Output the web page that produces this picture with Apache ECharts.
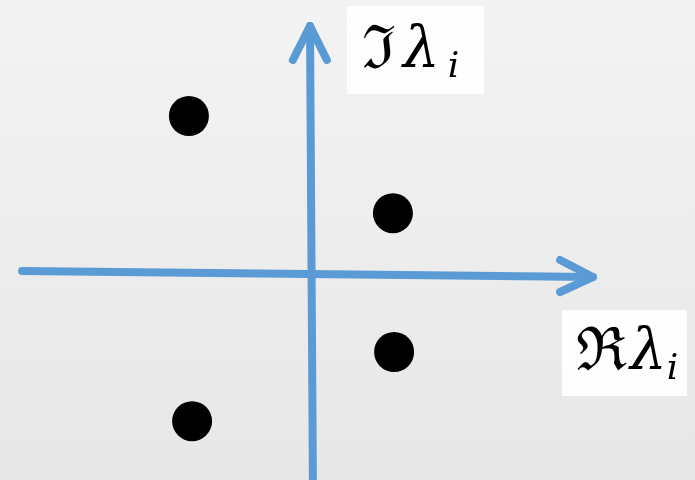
<!DOCTYPE html>
<html>
<head>
<meta charset="utf-8">
<title>Eigenvalues in the complex plane</title>
<script src="https://cdn.jsdelivr.net/npm/echarts@6/dist/echarts.min.js"></script>
<style>
  html, body { margin: 0; padding: 0; }
  #chart { width: 695px; height: 480px; }
</style>
</head>
<body>
<div id="chart"></div>
<script>
// Eigenvalues λ_i plotted as points (Re, Im)
const realParts = [-3.04, 2.06, 2.09, -2.96];
const imagParts = [3.95, 1.52, -1.95, -3.68];

// Hand-drawn axes of the complex plane (slightly tilted), in plot units
const realAxisLine = [[-7.21, 0.075], [7.06, -0.075]];
const realAxisHead = [[6.24, 0.35], [7.06, -0.075], [6.24, -0.45]];
const imagAxisLine = [[0.06, -5.2], [-0.0125, 6.2]];
const imagAxisHead = [[-0.44, 5.35], [-0.0125, 6.2], [0.41, 5.35]];

// Visible plot window
const xRange = [-7.7625, 9.6125];
const yRange = [-5.15, 6.85];

const axisBlue = '#5b9bd5';

const chart = echarts.init(document.getElementById('chart'), null, { renderer: 'canvas' });

function axisStroke(data) {
  return {
    type: 'line',
    data: data,
    symbol: 'none',
    silent: true,
    z: 2,
    lineStyle: { color: axisBlue, width: 8, cap: 'round', join: 'round', opacity: 1 }
  };
}

const mathFont = '"DejaVu Serif", "Liberation Serif", serif';
function labelRich(lamGap, subGap) {
  return {
    op: { fontFamily: mathFont, fontSize: 60, color: '#151515' },
    lam: { fontFamily: mathFont, fontSize: 58, fontStyle: 'italic', color: '#151515', padding: [0, 0, 0, lamGap] },
    sub: { fontFamily: mathFont, fontSize: 36, fontStyle: 'italic', color: '#151515', verticalAlign: 'bottom', padding: [0, 0, -4, subGap] }
  };
}

chart.setOption({
  animation: false,
  backgroundColor: {
    type: 'linear', x: 0, y: 0, x2: 0, y2: 1,
    colorStops: [
      { offset: 0, color: '#f3f3f3' },
      { offset: 1, color: '#e7e7e7' }
    ]
  },
  grid: { left: 0, right: 0, top: 0, bottom: 0 },
  xAxis: {
    type: 'value', min: xRange[0], max: xRange[1],
    show: false
  },
  yAxis: {
    type: 'value', min: yRange[0], max: yRange[1],
    show: false
  },
  series: [
    axisStroke(realAxisLine),
    axisStroke(realAxisHead),
    axisStroke(imagAxisLine),
    axisStroke(imagAxisHead),
    {
      type: 'scatter',
      data: realParts.map((re, i) => [re, imagParts[i]]),
      symbol: 'circle',
      symbolSize: 40,
      itemStyle: { color: '#000', opacity: 1 },
      z: 3
    }
  ],
  graphic: [
    {
      type: 'group', left: 347, top: 6,
      children: [
        { type: 'rect', shape: { x: 0, y: 0, width: 137, height: 88 }, style: { fill: '#fefefe' } },
        {
          type: 'text', x: 15, y: 16,
          style: { text: '{op|ℑ}{lam|λ}{sub|i}', rich: labelRich(7, 8) }
        }
      ]
    },
    {
      type: 'group', left: 562, top: 310,
      children: [
        { type: 'rect', shape: { x: 0, y: 0, width: 125, height: 86 }, style: { fill: '#fefefe' } },
        {
          type: 'text', x: 14, y: 14,
          style: { text: '{op|ℜ}{lam|λ}{sub|i}', rich: labelRich(3, 0) }
        }
      ]
    }
  ]
});
</script>
</body>
</html>
